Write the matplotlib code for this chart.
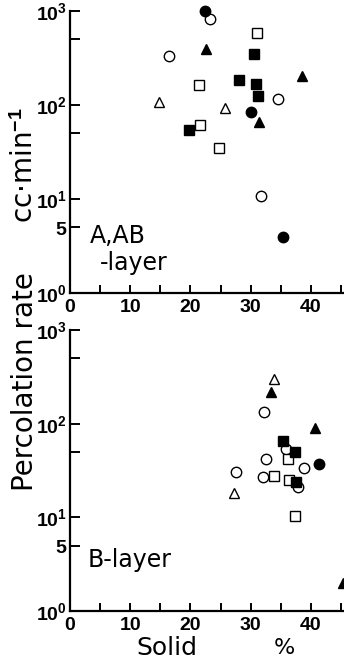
import numpy as np
import matplotlib
matplotlib.use("Agg")
import matplotlib.pyplot as plt
from matplotlib.ticker import FixedLocator, FixedFormatter, NullLocator

plt.rcParams['font.family'] = ['DejaVu Sans']
plt.rcParams['mathtext.fontset'] = 'custom'
plt.rcParams['mathtext.rm'] = 'Liberation Sans:bold'
plt.rcParams['mathtext.it'] = 'Liberation Sans:bold'
plt.rcParams['mathtext.bf'] = 'Liberation Sans:bold'

# A, AB-layer (top panel)
top_fc_x = [22.4, 30.0, 35.3]
top_fc_y = [1000, 85, 3.9]
top_oc_x = [23.3, 16.4, 34.6, 31.7]
top_oc_y = [830, 333, 117, 10.8]
top_fs_x = [30.6, 28.1, 30.9, 31.3, 19.7]
top_fs_y = [348, 183, 167, 124, 54]
top_os_x = [31.0, 21.4, 21.6, 24.7]
top_os_y = [585, 164, 61, 35]
top_ft_x = [22.6, 38.6, 31.4]
top_ft_y = [395, 205, 66]
top_ot_x = [14.8, 25.7]
top_ot_y = [107, 93]

# B-layer (bottom panel)
bot_fc_x = [41.3]
bot_fc_y = [37.4]
bot_oc_x = [32.2, 35.9, 32.6, 38.9, 27.5, 32.0, 37.9]
bot_oc_y = [134, 54, 42, 34, 30.5, 27, 21]
bot_fs_x = [35.3, 37.3, 37.5]
bot_fs_y = [65, 50, 24]
bot_os_x = [36.2, 33.9, 36.3, 37.4]
bot_os_y = [41.6, 27.6, 25, 10.3]
bot_ft_x = [33.4, 40.7, 45.4]
bot_ft_y = [219, 90, 2.0]
bot_ot_x = [33.9, 27.3]
bot_ot_y = [300, 18]

y_ticks = [1, 5, 10, 50, 100, 500, 1000]
y_labels = [r'$10^{0}$', r'$5$', r'$10^{1}$', '', r'$10^{2}$', '', r'$10^{3}$']
x_ticks = [0, 5, 10, 15, 20, 25, 30, 35, 40, 45]
x_labels = ['0', '', '10', '', '20', '', '30', '', '40', '']

W, H = 344, 662
fig = plt.figure(figsize=(W / 100, H / 100), dpi=100)


def px_axes(left, top, right, bottom):
    return fig.add_axes([left / W, 1 - bottom / H, (right - left) / W, (bottom - top) / H])


def style(ax):
    ax.set_yscale('log')
    ax.set_ylim(1, 1000)
    ax.set_xlim(0, 45.5)
    for s in ['top', 'right']:
        ax.spines[s].set_visible(False)
    for s in ['left', 'bottom']:
        ax.spines[s].set_linewidth(1.6)
    ax.yaxis.set_major_locator(FixedLocator(y_ticks))
    ax.yaxis.set_major_formatter(FixedFormatter(y_labels))
    ax.yaxis.set_minor_locator(NullLocator())
    ax.xaxis.set_major_locator(FixedLocator(x_ticks))
    ax.xaxis.set_major_formatter(FixedFormatter(x_labels))
    ax.tick_params(axis='y', direction='in', length=7, width=1.4, pad=2, labelsize=14)
    ax.tick_params(axis='x', direction='in', length=6, width=1.4, pad=4.5, labelsize=14)
    for lab in ax.get_xticklabels():
        lab.set_fontfamily('Liberation Sans')
        lab.set_fontweight('bold')


def draw(ax, fc, oc, fs, os_, ft, ot):
    ms = 7.5
    kw = dict(linestyle='none', markeredgecolor='black', markeredgewidth=1.0,
              markersize=ms, clip_on=False)
    ax.plot(*oc, marker='o', markerfacecolor='white', **kw)
    ax.plot(*os_, marker='s', markerfacecolor='white', **kw)
    ax.plot(*ot, marker='^', markerfacecolor='white', **kw)
    ax.plot(*fc, marker='o', markerfacecolor='black', **kw)
    ax.plot(*fs, marker='s', markerfacecolor='black', **kw)
    ax.plot(*ft, marker='^', markerfacecolor='black', **kw)


ax1 = px_axes(70, 11, 344, 293)
style(ax1)
draw(ax1, (top_fc_x, top_fc_y), (top_oc_x, top_oc_y), (top_fs_x, top_fs_y),
     (top_os_x, top_os_y), (top_ft_x, top_ft_y), (top_ot_x, top_ot_y))

ax2 = px_axes(70, 330, 344, 611)
style(ax2)
draw(ax2, (bot_fc_x, bot_fc_y), (bot_oc_x, bot_oc_y), (bot_fs_x, bot_fs_y),
     (bot_os_x, bot_os_y), (bot_ft_x, bot_ft_y), (bot_ot_x, bot_ot_y))

# panel labels
fig.text(90 / W, 1 - 236 / H, 'A,AB', fontsize=17, va='center', ha='left')
fig.text(100 / W, 1 - 263 / H, '-layer', fontsize=17, va='center', ha='left')
fig.text(88 / W, 1 - 560 / H, 'B-layer', fontsize=17, va='center', ha='left')

# axis labels
fig.text(25 / W, 1 - 382 / H, 'Percolation rate', fontsize=20, rotation=90,
         va='center', ha='center')
fig.text(25 / W, 1 - 165 / H, 'cc\u00b7min$^{-1}$', fontsize=20, rotation=90,
         va='center', ha='center')
fig.text(167 / W, 1 - 648 / H, 'Solid', fontsize=18, va='center', ha='center')
fig.text(284 / W, 1 - 648 / H, '%', fontsize=16, va='center', ha='center')

fig.savefig('out.png', dpi=100)
